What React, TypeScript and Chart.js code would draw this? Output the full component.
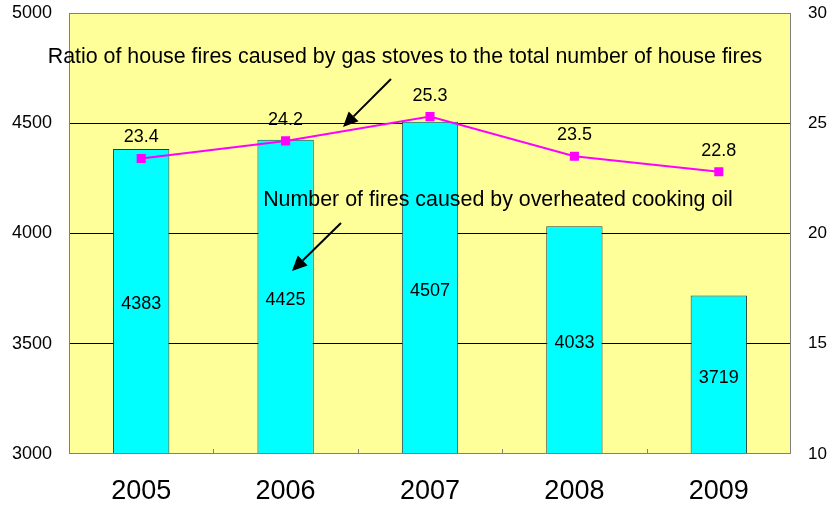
import React, { useEffect, useRef } from "react";
import { Chart, registerables } from "chart.js";

Chart.register(...registerables);

const categories = ["2005", "2006", "2007", "2008", "2009"];
const fireCounts = [4383, 4425, 4507, 4033, 3719];
const gasStoveRatio = [23.4, 24.2, 25.3, 23.5, 22.8];
const leftTicks = [3000, 3500, 4000, 4500, 5000];
const rightTicks = [10, 15, 20, 25, 30];
const ratioNote = "Ratio of house fires caused by gas stoves to the total number of house fires";
const countNote = "Number of fires caused by overheated cooking oil";

const SANS = "'Liberation Sans', Arial, sans-serif";

function arrow(ctx: CanvasRenderingContext2D, x1: number, y1: number, x2: number, y2: number) {
  const ang = Math.atan2(y2 - y1, x2 - x1);
  const hl = 15, hw = 7;
  const bx = x2 - hl * Math.cos(ang), by = y2 - hl * Math.sin(ang);
  ctx.save();
  ctx.strokeStyle = "#000";
  ctx.fillStyle = "#000";
  ctx.lineWidth = 2;
  ctx.beginPath();
  ctx.moveTo(x1, y1);
  ctx.lineTo(bx, by);
  ctx.stroke();
  ctx.beginPath();
  ctx.moveTo(x2, y2);
  ctx.lineTo(bx + hw * Math.sin(ang), by - hw * Math.cos(ang));
  ctx.lineTo(bx - hw * Math.sin(ang), by + hw * Math.cos(ang));
  ctx.closePath();
  ctx.fill();
  ctx.restore();
}

const customPlugin = {
  id: "custom",
  beforeDraw(chart: any) {
    const { ctx, chartArea: a } = chart;
    ctx.save();
    ctx.fillStyle = "#FFFF99";
    ctx.fillRect(a.left, a.top, a.right - a.left, a.bottom - a.top);
    ctx.restore();
  },
  afterDatasetsDraw(chart: any) {
    const { ctx, chartArea: a } = chart;
    const x = chart.scales.x;
    const y = chart.scales.y;
    const y2 = chart.scales.y2;
    ctx.save();
    ctx.strokeStyle = "#808080";
    ctx.lineWidth = 1;
    ctx.strokeRect(a.left + 0.5, a.top + 0.5, a.right - a.left - 1, a.bottom - a.top - 1);
    for (let i = 1; i < categories.length; i++) {
      const px = Math.round((x.getPixelForValue(i - 1) + x.getPixelForValue(i)) / 2) + 0.5;
      ctx.beginPath();
      ctx.moveTo(px, a.bottom);
      ctx.lineTo(px, a.bottom - 5);
      ctx.stroke();
    }
    ctx.restore();

    ctx.save();
    ctx.fillStyle = "#000";
    ctx.textAlign = "center";
    ctx.textBaseline = "middle";
    ctx.font = `18px ${SANS}`;
    fireCounts.forEach((v, i) => {
      const px = x.getPixelForValue(i);
      const top = y.getPixelForValue(v);
      const base = y.getPixelForValue(y.min);
      ctx.fillText(String(v), px, (top + base) / 2 + 3);
    });
    gasStoveRatio.forEach((v, i) => {
      const px = x.getPixelForValue(i);
      ctx.fillText(v.toFixed(1), px, y2.getPixelForValue(v) - 21);
    });
    ctx.font = `21.4px ${SANS}`;
    ctx.fillText(ratioNote, 405, 57);
    ctx.fillText(countNote, 498, 200);
    ctx.restore();
    arrow(ctx, 391, 79, 343, 127);
    arrow(ctx, 341, 223, 292, 271);
  },
};

const noPad = (w: number) => (s: any) => {
  s.width = w;
  s.paddingTop = 0;
  s.paddingBottom = 0;
};

export default function App() {
  const ref = useRef<HTMLCanvasElement>(null);
  useEffect(() => {
    const chart = new Chart(ref.current!, {
      type: "bar",
      data: {
        labels: categories,
        datasets: [
          {
            type: "line",
            label: "ratio",
            data: gasStoveRatio,
            yAxisID: "y2",
            borderColor: "#FF00FF",
            backgroundColor: "#FF00FF",
            borderWidth: 2,
            pointStyle: "rect",
            pointRadius: 5,
            pointHoverRadius: 5,
            order: 0,
          } as any,
          {
            type: "bar",
            label: "count",
            data: fireCounts,
            yAxisID: "y",
            backgroundColor: "#00FFFF",
            borderColor: "#204040",
            borderWidth: 1,
            categoryPercentage: 1,
            barPercentage: 0.39,
            order: 1,
          },
        ],
      },
      options: {
        animation: false,
        responsive: false,
        maintainAspectRatio: false,
        layout: { padding: { top: 13, left: 0, right: 0, bottom: 0 } },
        plugins: { legend: { display: false }, tooltip: { enabled: false } },
        scales: {
          x: {
            grid: { display: false, drawTicks: false },
            border: { display: false },
            ticks: { color: "#000", font: { family: SANS, size: 27 }, padding: 21 },
            afterFit: (s: any) => { s.height = 52; s.paddingLeft = 0; s.paddingRight = 0; },
          },
          y: {
            position: "left",
            min: 3000,
            max: 5000,
            afterBuildTicks: (s: any) => { s.ticks = leftTicks.map((v) => ({ value: v })); },
            grid: {
              drawTicks: false,
              color: (c: any) => (c.tick && (c.tick.value === 3000 || c.tick.value === 5000) ? "rgba(0,0,0,0)" : "#000"),
              lineWidth: 1,
            },
            border: { display: false },
            ticks: { color: "#000", font: { family: SANS, size: 18 }, padding: 17, callback: (v: any) => String(v) },
            afterFit: noPad(69),
          },
          y2: {
            position: "right",
            min: 10,
            max: 30,
            afterBuildTicks: (s: any) => { s.ticks = rightTicks.map((v) => ({ value: v })); },
            grid: { display: false, drawTicks: false },
            border: { display: false },
            ticks: { color: "#000", font: { family: SANS, size: 17 }, padding: 17, callback: (v: any) => String(v) },
            afterFit: noPad(41),
          },
        },
      },
      plugins: [customPlugin],
    });
    return () => chart.destroy();
  }, []);
  return (
    <div style={{ position: "fixed", left: 0, top: 0, width: 832, height: 506, background: "#fff" }}>
      <canvas ref={ref} width={832} height={506} />
    </div>
  );
}
